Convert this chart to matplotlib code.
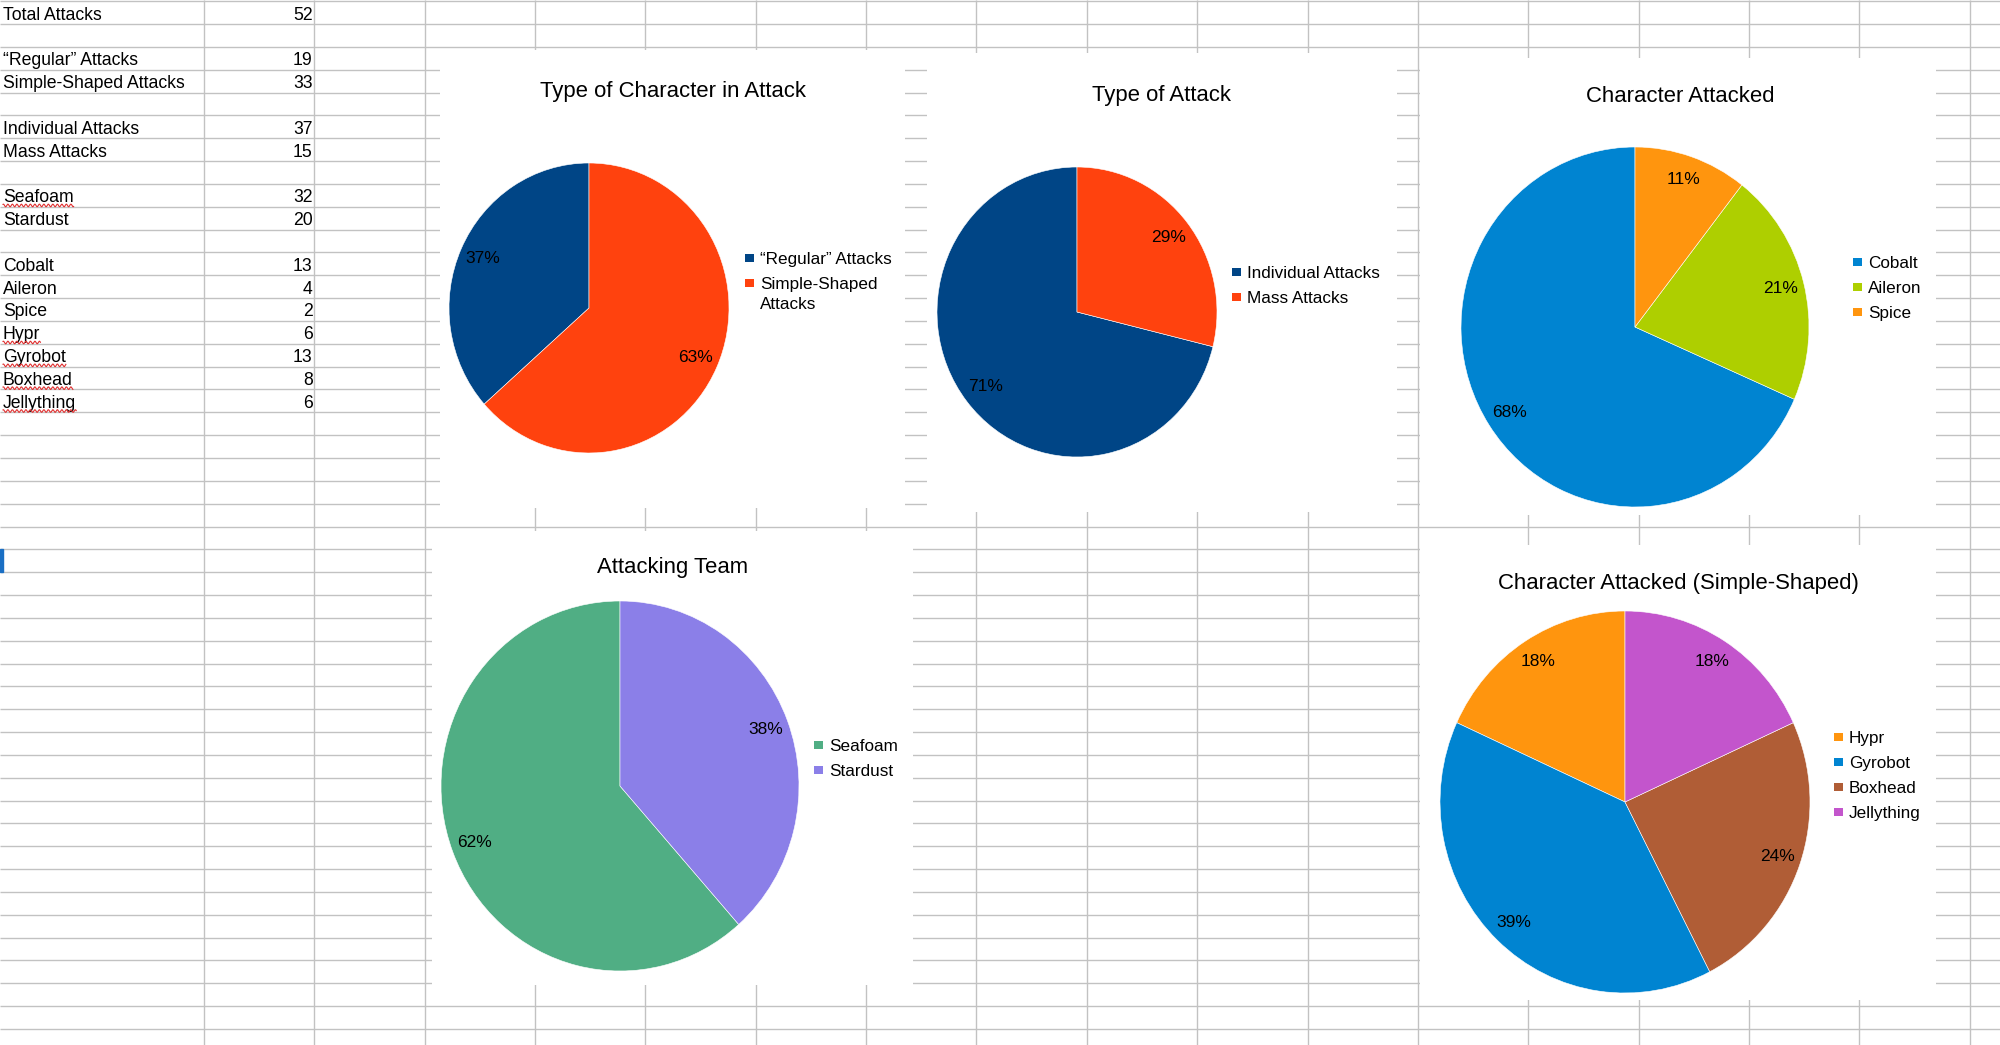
import textwrap
import numpy as np
import matplotlib
matplotlib.use('Agg')
import matplotlib.pyplot as plt
from matplotlib.patches import Rectangle

plt.rcParams['font.family'] = ['Liberation Sans', 'DejaVu Sans']

# data
total_attacks = 52
type_labels = ['“Regular” Attacks', 'Simple-Shaped Attacks']
type_values = [19, 33]
attack_labels = ['Individual Attacks', 'Mass Attacks']
attack_values = [37, 15]
team_labels = ['Seafoam', 'Stardust']
team_values = [32, 20]
char_labels = ['Cobalt', 'Aileron', 'Spice']
char_values = [13, 4, 2]
simple_labels = ['Hypr', 'Gyrobot', 'Boxhead', 'Jellything']
simple_values = [6, 13, 8, 6]
misspelled = ['Seafoam', 'Hypr', 'Gyrobot', 'Boxhead', 'Jellything']

# canvas in pixels (y down, like the screenshot)
W, H = 2000, 1045
fig = plt.figure(figsize=(W / 100, H / 100), dpi=100)
bg = fig.add_axes([0, 0, 1, 1])
bg.set_xlim(0, W)
bg.set_ylim(H, 0)
bg.axis('off')

grid_col = '#c2c2c2'
row_h = 22.84
col_w = 110.35
rows = 1.2 + row_h * np.arange(46)
cols = 204 + col_w * np.arange(17)
bg.hlines(rows, 0, W, color=grid_col, lw=1.0, zorder=1)
bg.vlines(cols, 0, H, color=grid_col, lw=1.0, zorder=1)

# sheet cells, built from the chart data
sheet = [('Total Attacks', total_attacks), None]
for labs, vals in [(type_labels, type_values), (attack_labels, attack_values),
                   (team_labels, team_values)]:
    sheet += list(zip(labs, vals)) + [None]
sheet += list(zip(char_labels, char_values)) + list(zip(simple_labels, simple_values))

cell_texts = []
for k, row in enumerate(sheet):
    if row is None:
        continue
    base = rows[k + 1] - 4.5
    t = bg.text(3, base, row[0], fontsize=12.7, va='baseline', ha='left', zorder=3)
    bg.text(312.5, base, str(row[1]), fontsize=12.7, va='baseline', ha='right', zorder=3)
    cell_texts.append((row[0], t, base))

# cell cursor
bg.add_patch(Rectangle((0, rows[24]), 2.5, row_h, color='#1a6fc4', zorder=3))

charts = [
    dict(title='Type of Character in Attack', labels=type_labels, values=type_values,
         colors=['#004586', '#ff420e'], box=(440, 50, 905, 508), center=(589, 308),
         r=(140, 145), title_xy=(673, 91), leg=(745, 258), wrap=17),
    dict(title='Type of Attack', labels=attack_labels, values=attack_values,
         colors=['#004586', '#ff420e'], box=(927, 53, 1397, 512), center=(1077, 312),
         r=(140, 145), title_xy=(1162, 95), leg=(1232, 272), wrap=40),
    dict(title='Character Attacked', labels=char_labels, values=char_values,
         colors=['#0084d1', '#aecf00', '#ff950e'], box=(1420, 58, 1936, 515),
         center=(1635, 327), r=(174, 180), title_xy=(1680, 97), leg=(1853, 262), wrap=40),
    dict(title='Attacking Team', labels=team_labels, values=team_values,
         colors=['#50ae84', '#8b7fe8'], box=(432, 531, 913, 985), center=(620, 786),
         r=(179, 185), title_xy=(673, 567), leg=(814, 745), wrap=40),
    dict(title='Character Attacked (Simple-Shaped)', labels=simple_labels,
         values=simple_values, colors=['#ff950e', '#0084d1', '#b05d36', '#c355cc'],
         box=(1420, 545, 1936, 1000), center=(1625, 802), r=(185, 191),
         title_xy=(1678, 584), leg=(1834, 737), wrap=40),
]

pad = 1.04
for c in charts:
    x0, y0, x1, y1 = c['box']
    bg.add_patch(Rectangle((x0, y0), x1 - x0, y1 - y0, facecolor='white',
                           edgecolor='none', zorder=2))
    bg.text(*c['title_xy'], c['title'], fontsize=15.9, ha='center', va='center', zorder=3)

    cx, cy = c['center']
    rx, ry = c['r']
    ax = fig.add_axes([(cx - rx * pad) / W, 1 - (cy + ry * pad) / H,
                       2 * rx * pad / W, 2 * ry * pad / H])
    ax.pie(c['values'], colors=c['colors'], startangle=90, counterclock=True,
           autopct='%.0f%%', pctdistance=1 - 24 / ((rx + ry) / 2),
           textprops=dict(fontsize=12.5, color='black'),
           wedgeprops=dict(edgecolor='white', linewidth=0.4))
    ax.set_aspect('auto')
    ax.set_xlim(-pad, pad)
    ax.set_ylim(-pad, pad)

    # legend: square key + label, long labels wrapped onto extra lines
    lx, ly = c['leg']
    for i, (lab, col) in enumerate(zip(c['labels'], c['colors'])):
        yy = ly + 25 * i
        bg.add_patch(Rectangle((lx, yy - 4.25), 8.5, 8.5, facecolor=col,
                               edgecolor='none', zorder=3))
        for j, line in enumerate(textwrap.wrap(lab, c['wrap'])):
            bg.text(lx + 15, yy + 6.2 + 20 * j, line, fontsize=12.3,
                    va='baseline', ha='left', zorder=3)

# spell-check squiggles under flagged words
fig.canvas.draw()
inv = bg.transData.inverted()
for word, t, base in cell_texts:
    if word not in misspelled:
        continue
    bb = t.get_window_extent()
    xa = inv.transform((bb.x0, 0))[0]
    xb = inv.transform((bb.x1, 0))[0]
    xs = np.linspace(xa, xb, 200)
    bg.plot(xs, base + 3.2 + 1.3 * np.sin(xs * 2 * np.pi / 4.5), color='#e03030',
            lw=0.8, zorder=4)

fig.savefig('out.png', dpi=100)
